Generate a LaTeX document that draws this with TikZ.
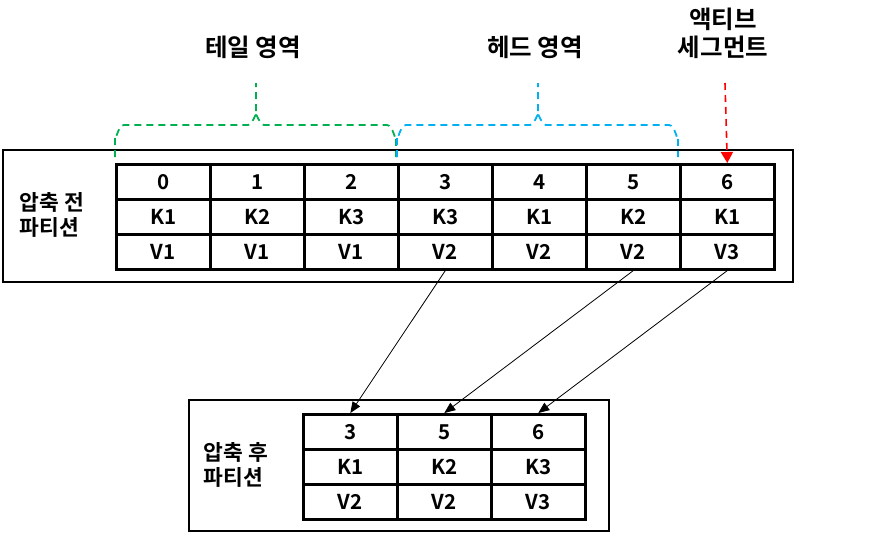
\documentclass[tikz,border=0pt]{standalone}
\usepackage{fontspec}
\setmainfont{Noto Sans CJK KR}[BoldFont={Noto Sans CJK KR Bold}]
\usetikzlibrary{arrows.meta}
\definecolor{brgreen}{HTML}{00B050}
\definecolor{brblue}{HTML}{00B0F0}
\begin{document}
\begin{tikzpicture}[x=1pt,y=-1pt,
  cell/.style={draw,line width=2.6pt,minimum width=94pt,minimum height=35pt,inner sep=0pt,
    font=\fontsize{20.5}{24}\selectfont\bfseries,anchor=north west},
  frame/.style={draw,line width=2.2pt,anchor=north west,inner sep=0pt},
  side/.style={font=\fontsize{21.5}{25}\selectfont\bfseries,align=left},
  toplbl/.style={font=\fontsize{24.5}{28}\selectfont\bfseries,align=center},
  brace/.style={line width=1.8pt,dash pattern=on 7pt off 5pt},
  move/.style={line width=0.8pt,-{Triangle[length=11pt,width=9pt]}}]
\useasboundingbox (0,0) rectangle (883,533);
% before compaction
\node[frame,minimum width=790pt,minimum height=132pt] (before) at (2,149) {};
\foreach \i/\h/\k/\v in {0/0/K1/V1,1/1/K2/V1,2/2/K3/V1,3/3/K3/V2,4/4/K1/V2,5/5/K2/V2,6/6/K1/V3}{
  \node[cell] (h\i) at (115+94*\i,163) {\h};
  \node[cell] (k\i) at (115+94*\i,198) {\k};
  \node[cell] (v\i) at (115+94*\i,233) {\v};
}
\node[side] (lblbefore) at (52,215) {압축 전\\파티션};
% after compaction
\node[frame,minimum width=420pt,minimum height=131pt] (after) at (188,399) {};
\foreach \i/\h/\k/\v in {0/3/K1/V2,1/5/K2/V2,2/6/K3/V3}{
  \node[cell] (bh\i) at (302+94*\i,413) {\h};
  \node[cell] (bk\i) at (302+94*\i,448) {\k};
  \node[cell] (bv\i) at (302+94*\i,483) {\v};
}
\node[side] (lblafter) at (236,465) {압축 후\\파티션};
% top labels
\node[toplbl] (tail) at (253,47) {테일 영역};
\node[toplbl] (head) at (535,47) {헤드 영역};
\node[toplbl] (active) at (723,33) {액티브\\세그먼트};
% braces
\draw[brace,brgreen] (115,157) -- (115,138) to[out=-90,in=180] (124,125) -- (248,125) to[out=0,in=90] (256,116) -- (256,83);
\draw[brace,brgreen] (256,116) to[out=90,in=180] (264,125) -- (387,125) to[out=0,in=-90] (396,138) -- (396,157);
\draw[brace,brblue] (397,157) -- (397,138) to[out=-90,in=180] (406,125) -- (530,125) to[out=0,in=90] (538,116) -- (538,83);
\draw[brace,brblue] (538,116) to[out=90,in=180] (546,125) -- (669,125) to[out=0,in=-90] (678,138) -- (678,157);
% active segment arrow
\coordinate (redtop) at (725,83);
\draw[red,line width=1.6pt,dash pattern=on 7pt off 5pt,-{Triangle[length=11pt,width=12pt]}] (redtop) -- (h6.north);
% moves
\draw[move] (v3.south) -- (bh0.north);
\draw[move] (v5.south) -- (bh1.north);
\draw[move] (v6.south) -- (bh2.north);
\end{tikzpicture}
\end{document}
